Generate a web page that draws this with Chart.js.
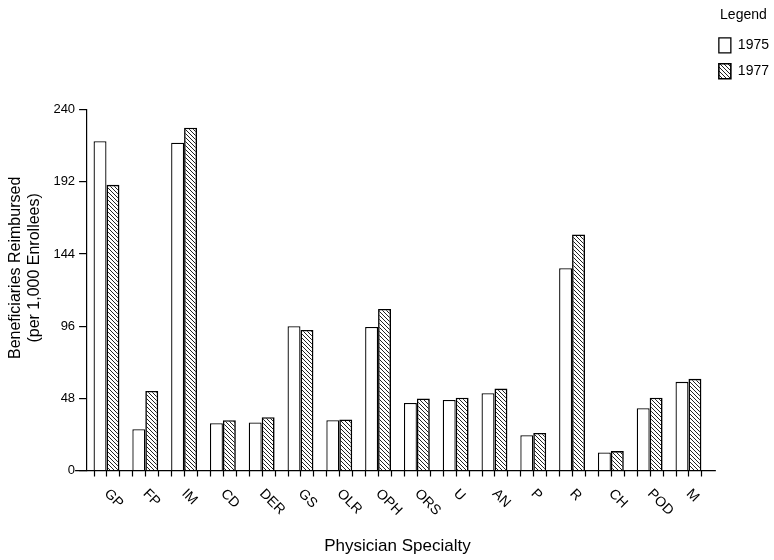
<!DOCTYPE html>
<html>
<head>
<meta charset="utf-8">
<script src="https://cdn.jsdelivr.net/npm/chart.js@4/dist/chart.umd.min.js"></script>
<style>
  html, body { margin: 0; padding: 0; background: #fff; }
  #wrap { width: 774px; height: 560px; position: relative; }
</style>
</head>
<body>
<div id="wrap"><canvas id="chart"></canvas></div>
<script>
// Data
var specialties = ['GP', 'FP', 'IM', 'CD', 'DER', 'GS', 'OLR', 'OPH', 'ORS', 'U', 'AN', 'P', 'R', 'CH', 'POD', 'M'];
var values1975 = [219, 27.5, 218, 31.5, 32, 96, 33.5, 95.5, 45, 47, 51.5, 23.5, 134.5, 12, 41.5, 59];
var values1977 = [190, 53, 228, 33.5, 35.5, 93.5, 34, 107.5, 48, 48.5, 54.5, 25, 157, 13, 48.5, 61];
var yTicks = [0, 48, 96, 144, 192, 240];

var FONT = '"Liberation Sans", Arial, Helvetica, sans-serif';

// diagonal hatch for the 1977 bars
function makeHatch() {
    var c = document.createElement('canvas');
    c.width = 4;
    c.height = 4;
    var g = c.getContext('2d');
    g.fillStyle = '#fff';
    g.fillRect(0, 0, 4, 4);
    g.strokeStyle = '#222';
    g.lineWidth = 1;
    g.beginPath();
    g.moveTo(-1, -1); g.lineTo(5, 5);
    g.moveTo(-1, 3); g.lineTo(1, 5);
    g.moveTo(3, -1); g.lineTo(5, 1);
    g.stroke();
    return g.createPattern(c, 'repeat');
}
var hatch = makeHatch();

// small tick marks under the x axis plus slanted category labels
var xAxisDecor = {
    id: 'xAxisDecor',
    afterDraw: function(chart) {
        var ctx = chart.ctx;
        var x = chart.scales.x;
        var y0 = chart.scales.y.getPixelForValue(0);
        var step = x.getPixelForValue(1) - x.getPixelForValue(0);
        ctx.save();
        ctx.strokeStyle = '#000';
        ctx.lineWidth = 1.2;
        ctx.beginPath();
        ctx.moveTo(chart.chartArea.left - 12, y0);
        ctx.lineTo(chart.chartArea.right + 8, y0);
        specialties.forEach(function(s, i) {
            var c = x.getPixelForValue(i);
            [-1, 0, 1].forEach(function(k) {
                var px = Math.round(c + k * step / 3) + 0.5;
                ctx.moveTo(px, y0);
                ctx.lineTo(px, y0 + 6);
            });
        });
        ctx.stroke();

        ctx.fillStyle = '#000';
        ctx.font = '14px ' + FONT;
        ctx.textAlign = 'left';
        ctx.textBaseline = 'middle';
        specialties.forEach(function(s, i) {
            var c = x.getPixelForValue(i);
            ctx.save();
            ctx.translate(c, y0 + 21);
            ctx.rotate(Math.PI / 4);
            ctx.fillText(s, 0, 0);
            ctx.restore();
        });
        ctx.restore();
    }
};

// leading spaces nudge the rotated title a little above the axis middle, as in the original
var yTitlePad = '          ';

new Chart(document.getElementById('chart'), {
    type: 'bar',
    data: {
        labels: specialties,
        datasets: [{
            label: '1975',
            data: values1975,
            backgroundColor: '#fff',
            borderColor: '#000',
            borderWidth: 1.3
        }, {
            label: '1977',
            data: values1977,
            backgroundColor: hatch,
            borderColor: '#000',
            borderWidth: 1.6
        }]
    },
    options: {
        responsive: true,
        maintainAspectRatio: false,
        animation: false,
        datasets: {
            bar: { categoryPercentage: 0.667, barPercentage: 1.0 }
        },
        layout: { padding: { top: 0, left: 6, right: -5, bottom: 3 } },
        plugins: {
            tooltip: { enabled: false },
            // empty spacer title so the chart area starts lower while the legend stays at the top
            title: {
                display: true,
                text: ' ',
                fullSize: false,
                font: { family: FONT, size: 13 },
                padding: { top: 94, bottom: 0 }
            },
            legend: {
                position: 'right',
                align: 'start',
                title: {
                    display: true,
                    text: 'Legend',
                    color: '#000',
                    font: { family: FONT, size: 14 },
                    padding: { top: 8, bottom: 2 }
                },
                labels: {
                    boxWidth: 12,
                    boxHeight: 15,
                    padding: 11,
                    color: '#000',
                    font: { family: FONT, size: 14 }
                }
            }
        },
        scales: {
            x: {
                grid: { display: false, drawTicks: false },
                border: { display: false },
                ticks: { display: false },
                title: {
                    display: true,
                    text: 'Physician Specialty',
                    color: '#000',
                    font: { family: FONT, size: 17 },
                    padding: { top: 66, bottom: 0 }
                }
            },
            y: {
                min: 0,
                max: 240,
                afterBuildTicks: function(scale) {
                    scale.ticks = yTicks.map(function(v) { return { value: v }; });
                },
                grid: { drawOnChartArea: false, tickLength: 8, color: '#000', lineWidth: 1.2 },
                border: { display: true, color: '#000', width: 1.2 },
                ticks: {
                    color: '#000',
                    padding: 4,
                    font: { family: FONT, size: 13 }
                },
                title: {
                    display: true,
                    text: [yTitlePad + 'Beneficiaries Reimbursed', yTitlePad + '(per 1,000 Enrollees)'],
                    color: '#000',
                    font: { family: FONT, size: 16, lineHeight: 1.2 },
                    padding: { top: 0, bottom: 5 }
                }
            }
        }
    },
    plugins: [xAxisDecor]
});
</script>
</body>
</html>
